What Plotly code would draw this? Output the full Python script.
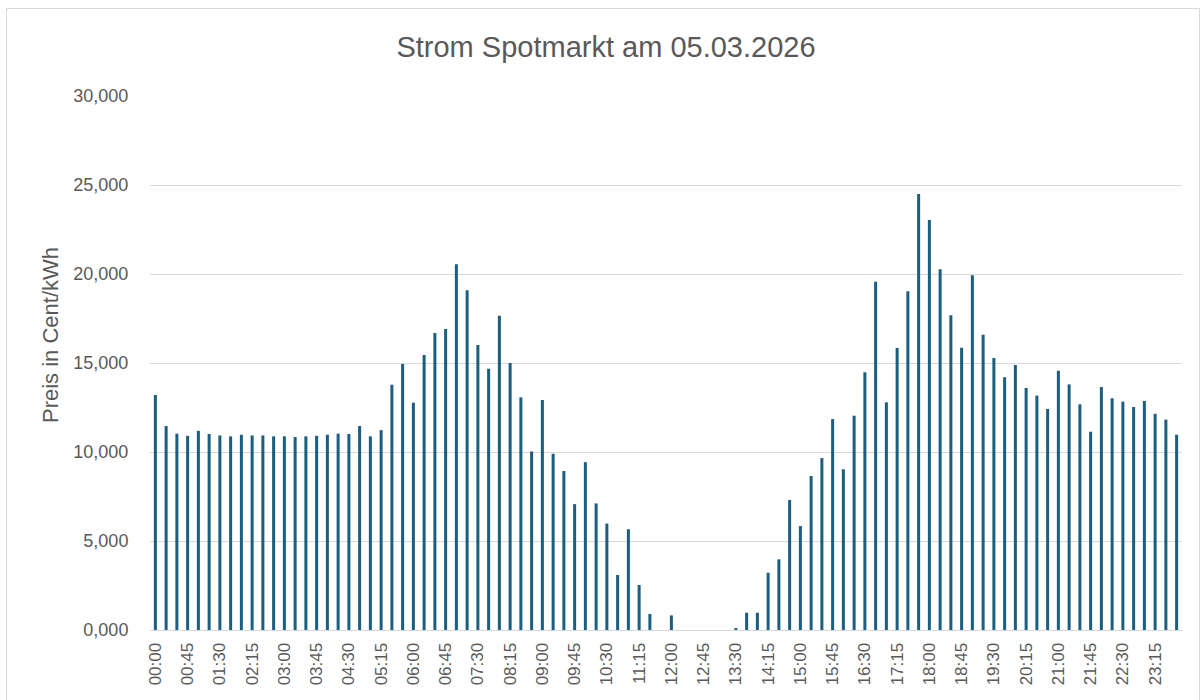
import plotly.graph_objects as go

# 15-minute slots
times = [f"{h:02d}:{m:02d}" for h in range(24) for m in (0, 15, 30, 45)]

# Preis in Cent/kWh
prices = [
    13.20, 11.46, 11.03, 10.91, 11.19, 11.01, 10.93, 10.88,
    10.97, 10.93, 10.93, 10.88, 10.88, 10.84, 10.88, 10.91,
    10.97, 11.03, 11.01, 11.46, 10.88, 11.23, 13.78, 14.94,
    12.77, 15.45, 16.69, 16.91, 20.55, 19.09, 16.01, 14.68,
    17.66, 15.00, 13.07, 10.03, 12.92, 9.90, 8.93, 7.07,
    9.43, 7.11, 5.98, 3.09, 5.66, 2.53, 0.90, 0.00,
    0.82, 0.00, 0.00, 0.00, 0.00, 0.00, 0.09, 0.97,
    0.97, 3.22, 3.97, 7.30, 5.84, 8.65, 9.66, 11.85,
    9.03, 12.04, 14.48, 19.57, 12.79, 15.84, 19.03, 24.49,
    23.03, 20.26, 17.68, 15.86, 19.93, 16.59, 15.28, 14.20,
    14.89, 13.60, 13.17, 12.42, 14.57, 13.80, 12.68, 11.14,
    13.65, 13.02, 12.83, 12.53, 12.87, 12.15, 11.82, 10.97,
]

tick_labels = times[::3]
y_ticks = [0, 5, 10, 15, 20, 25, 30]

title_text = "Strom Spotmarkt am 05.03.2026"
y_title = "Preis in Cent/kWh"

text_color = "#595959"
bar_color = "#1B5F80"
font_family = "Liberation Sans, Arial, sans-serif"

fig = go.Figure()
fig.add_trace(go.Bar(
    x=times,
    y=prices,
    marker=dict(color=bar_color, line=dict(width=0)),
    hovertemplate="%{x}: %{y:.3f}<extra></extra>",
))

W, H = 1201, 700
ml, mr, mt, mb = 150, 19, 96, 70
pw, ph = W - ml - mr, H - mt - mb

def px_to_paper_x(px):
    return (px - ml) / pw

def px_to_paper_y(py):
    return (H - mb - py) / ph

fig.update_layout(
    width=W,
    height=H,
    margin=dict(l=ml, r=mr, t=mt, b=mb, autoexpand=False),
    paper_bgcolor="white",
    plot_bgcolor="white",
    separators=",.",
    showlegend=False,
    bargap=0.72,
    font=dict(family=font_family, color=text_color),
    title=dict(
        text=title_text,
        x=606 / W,
        xref="container",
        xanchor="center",
        y=1 - 47 / H,
        yref="container",
        yanchor="middle",
        font=dict(size=29, color=text_color, family=font_family),
    ),
    xaxis=dict(
        type="category",
        automargin=False,
        tickmode="array",
        tickvals=tick_labels,
        ticktext=tick_labels,
        tickangle=-90,
        tickfont=dict(size=17, color=text_color),
        showgrid=False,
        showline=True,
        linecolor="#D9D9D9",
        linewidth=1,
        ticks="outside",
        ticklen=5,
        tickcolor="rgba(255,255,255,0)",
    ),
    yaxis=dict(
        range=[0, 30],
        automargin=False,
        tickmode="array",
        tickvals=y_ticks,
        tickformat=".3f",
        tickfont=dict(size=18, color=text_color),
        showgrid=True,
        gridcolor="#D9D9D9",
        gridwidth=1,
        zeroline=False,
        showline=False,
        ticks="outside",
        ticklen=17,
        tickcolor="rgba(255,255,255,0)",
    ),
    annotations=[
        dict(
            text=y_title,
            xref="paper", yref="paper",
            x=px_to_paper_x(50), y=px_to_paper_y(335),
            xanchor="center", yanchor="middle",
            textangle=-90,
            showarrow=False,
            font=dict(size=22, color=text_color, family=font_family),
        )
    ],
    shapes=[
        dict(
            type="rect",
            xref="paper", yref="paper",
            x0=px_to_paper_x(6.5), x1=px_to_paper_x(1199.5),
            y0=px_to_paper_y(702), y1=px_to_paper_y(8.5),
            line=dict(color="#D9D9D9", width=1),
            fillcolor="rgba(0,0,0,0)",
            layer="below",
        )
    ],
)

fig.write_html(
    "out.html",
    config={"displayModeBar": False},
    post_script="document.body.style.margin='0';document.body.style.overflow='hidden';",
)
